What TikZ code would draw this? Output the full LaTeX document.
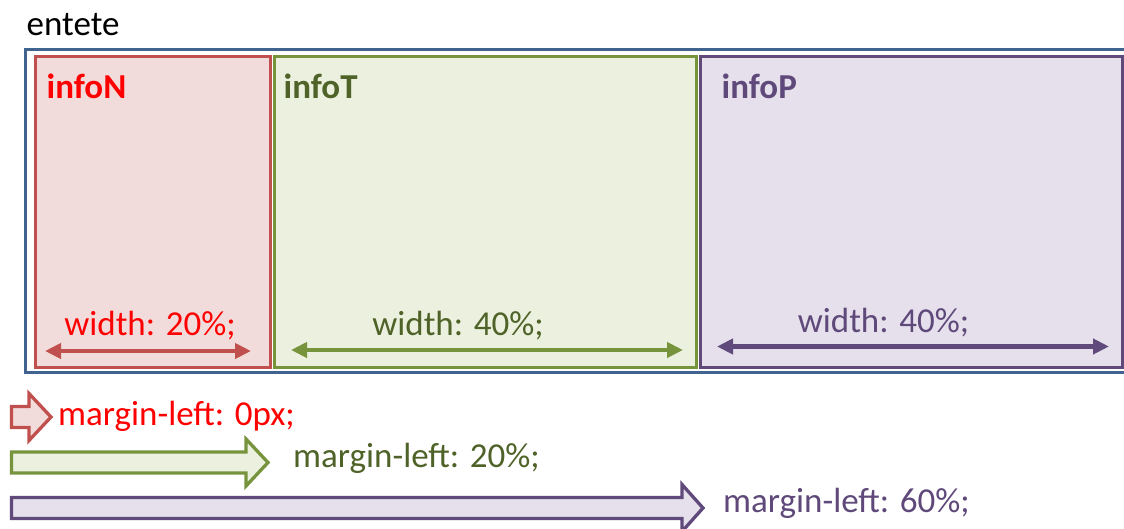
\documentclass[tikz,border=0pt]{standalone}
\usepackage{fontspec}
\setmainfont{Carlito}
\usetikzlibrary{arrows.meta,positioning}
\usepackage{xcolor}
\definecolor{enteteblue}{HTML}{41638F}
\definecolor{redline}{HTML}{C0504D}
\definecolor{redfill}{HTML}{F2DCDB}
\definecolor{redtext}{HTML}{FF0000}
\definecolor{greenline}{HTML}{77933C}
\definecolor{greenfill}{HTML}{EBF1DE}
\definecolor{greentext}{HTML}{4F6228}
\definecolor{purpleline}{HTML}{604A7B}
\definecolor{purplefill}{HTML}{E5E0EC}
\definecolor{purpletext}{HTML}{5F497A}

\begin{document}
\begin{tikzpicture}[
    x=1pt, y=-1pt,
    box/.style={rectangle, draw, line width=3.3pt, anchor=north west, inner sep=0pt, minimum height=310.5pt},
    lbl/.style={anchor=base west, inner sep=0pt, font=\fontsize{35}{42}\selectfont},
    title/.style={lbl, font=\fontsize{35}{42}\selectfont\bfseries},
    dim/.style={{Triangle[length=16pt,width=15pt]}-{Triangle[length=16pt,width=15pt]}, line width=4.5pt},
    blockarrow/.style={line width=3.3pt, line join=miter}
]
    \useasboundingbox (0,0) rectangle (1124,528);

    % outer container
    \node[box, draw=enteteblue, minimum width=1112pt, minimum height=323pt] (entete) at (23.5,48) {};
    \node[lbl] (enteteLabel) at (26.5,35) {entete};

    % the three columns
    \node[box, draw=redline, fill=redfill, minimum width=235pt] (infoN) at (33.5,55) {};
    \node[box, draw=greenline, fill=greenfill, minimum width=422.5pt] (infoT) at (272.5,55) {};
    \node[box, draw=purpleline, fill=purplefill, minimum width=422.5pt, minimum height=311pt] (infoP) at (698.5,55) {};

    \node[title, text=redtext] (infoNtitle) at (46.5,98) {infoN};
    \node[title, text=greentext] (infoTtitle) at (283.5,98) {infoT};
    \node[title, text=purpletext] (infoPtitle) at (721.5,98) {infoP};

    % widths
    \node[lbl, anchor=base, text=redtext] (widthN) at (150,335) {width: 20\%;};
    \node[lbl, anchor=base, text=greentext] (widthT) at (458,335) {width: 40\%;};
    \node[lbl, anchor=base, text=purpletext] (widthP) at (883.5,332) {width: 40\%;};

    \coordinate (nL) at (45,351);
    \coordinate (nR) at (251,351);
    \coordinate (tL) at (291,350);
    \coordinate (tR) at (683,350);
    \coordinate (pL) at (717,346.5);
    \coordinate (pR) at (1109,346.5);
    \draw[dim, redline] (nL) -- (nR);
    \draw[dim, greenline] (tL) -- (tR);
    \draw[dim, purpleline] (pL) -- (pR);

    % margins
    \draw[blockarrow, draw=redline, fill=redfill] (11.5,406.5) -- (29,406.5) -- (29,393.5) -- (51,417) -- (29,440.5) -- (29,427.5) -- (11.5,427.5) -- cycle;
    \draw[blockarrow, draw=greenline, fill=greenfill] (11.5,452) -- (246,452) -- (246,439) -- (268,462.5) -- (246,486) -- (246,473) -- (11.5,473) -- cycle;
    \draw[blockarrow, draw=purpleline, fill=purplefill] (11.5,497.5) -- (682,497.5) -- (682,484.5) -- (703,508) -- (682,531.5) -- (682,518.5) -- (11.5,518.5) -- cycle;

    \node[lbl, text=redtext] (marginN) at (58,425) {margin-left: 0px;};
    \node[lbl, text=greentext] (marginT) at (293,467) {margin-left: 20\%;};
    \node[lbl, text=purpletext] (marginP) at (723,512) {margin-left: 60\%;};
\end{tikzpicture}
\end{document}
